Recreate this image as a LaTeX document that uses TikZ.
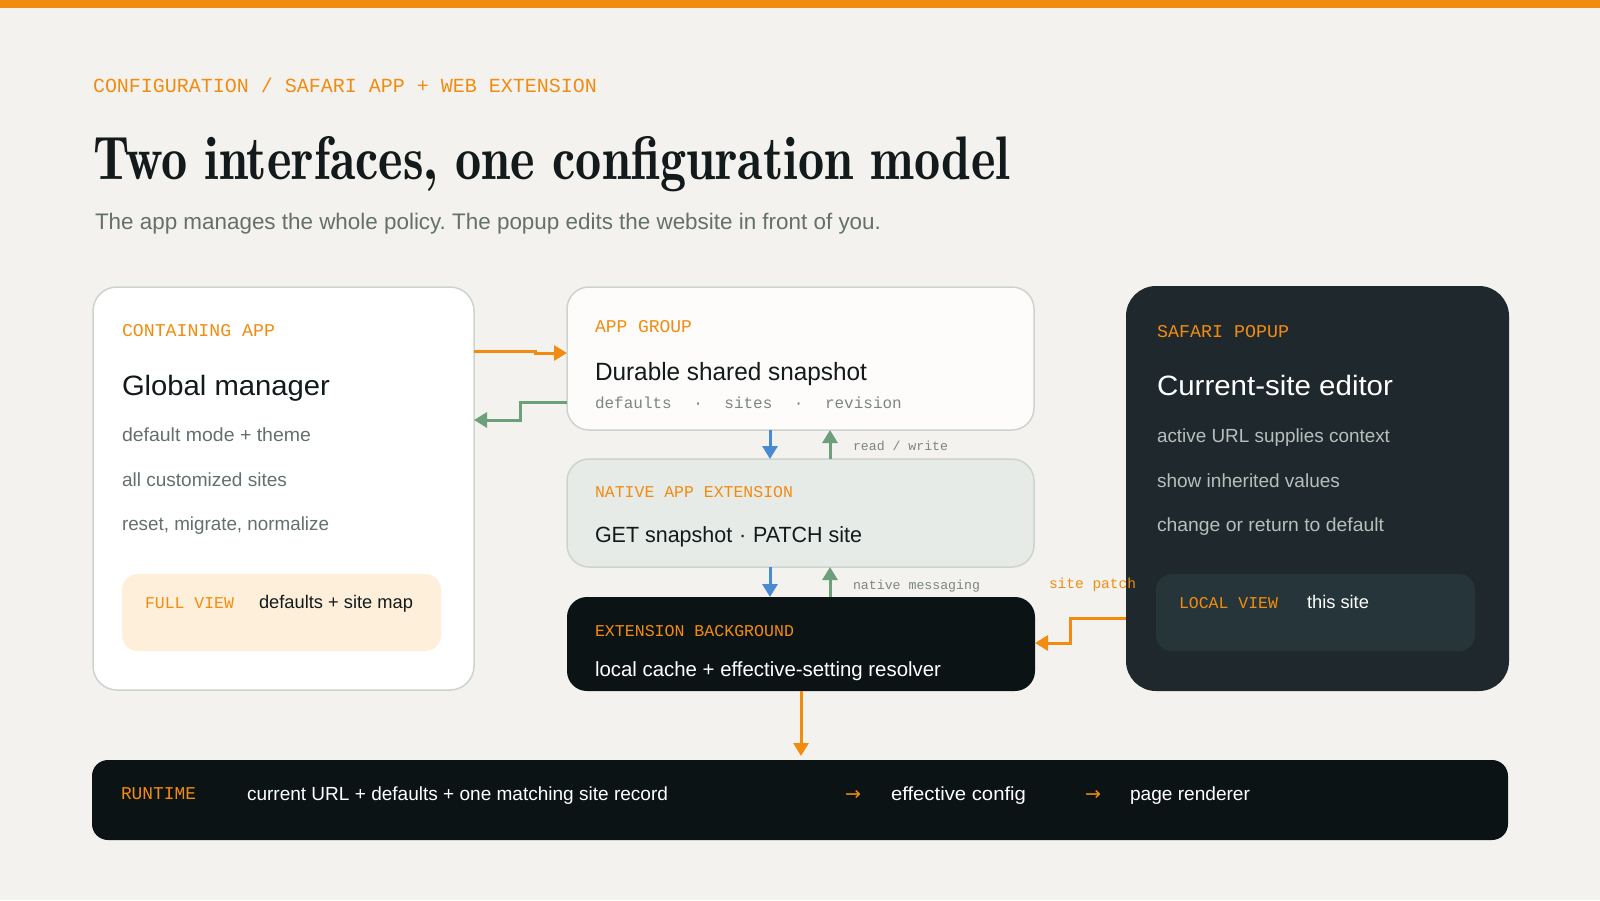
\documentclass[tikz,border=0pt]{standalone}
\usepackage{fontspec}
\usepackage{graphicx}
\usetikzlibrary{arrows.meta}
\newfontfamily\sansf{Liberation Sans}
\newfontfamily\monof{Liberation Mono}
\newfontfamily\symf{DejaVu Sans}
\newfontfamily\titlef{lmromandemi10-regular.otf}
\definecolor{bgc}{HTML}{F4F2EE}
\definecolor{acc}{HTML}{F28C10}
\definecolor{ink}{HTML}{121A1C}
\definecolor{sub}{HTML}{65706D}
\definecolor{linec}{HTML}{CDD3CF}
\definecolor{paper}{HTML}{FDFCFA}
\definecolor{mist}{HTML}{E6EBE8}
\definecolor{night}{HTML}{0C1315}
\definecolor{slate}{HTML}{1F292D}
\definecolor{slatetwo}{HTML}{26353A}
\definecolor{cream}{HTML}{FDEFD9}
\definecolor{pale}{HTML}{B7BFBC}
\definecolor{mgray}{HTML}{7D8582}
\definecolor{blu}{HTML}{4A8AD0}
\definecolor{grn}{HTML}{6BA07B}
\newcommand\fw[2]{\resizebox{#1pt}{\height}{#2}}
\frenchspacing
\begin{document}
\begin{tikzpicture}[x=1pt,y=-1pt,
  every node/.style={inner sep=0pt,outer sep=0pt},
  card/.style={anchor=north west,line width=1.5pt},
  tx/.style={anchor=base west},
  lbl/.style={tx,font=\monof\fontsize{18}{22}\selectfont,text=acc},
  head/.style={tx,font=\sansf\fontsize{28}{32}\selectfont},
  item/.style={tx,font=\sansf\fontsize{19}{23}\selectfont},
  note/.style={tx,font=\monof\fontsize{13}{16}\selectfont,text=mgray},
  arr/.style={line width=3pt,-{Triangle[length=13pt,width=15pt]}}]
\useasboundingbox (0,0) rectangle (1600,900);
\fill[bgc] (0,0) rectangle (1600,900);
\fill[acc] (0,0) rectangle (1600,8);

% cards
\node[card,fill=white,draw=linec,rounded corners=24pt,minimum width=381pt,minimum height=403pt] (app) at (93,287) {};
\node[card,fill=paper,draw=linec,rounded corners=22pt,minimum width=467pt,minimum height=143pt] (group) at (567,287) {};
\node[card,fill=mist,draw=linec,rounded corners=22pt,minimum width=467pt,minimum height=108pt] (native) at (567,459) {};
\node[card,fill=night,rounded corners=20pt,minimum width=468pt,minimum height=94pt] (bg) at (567,597) {};
\node[card,fill=slate,rounded corners=30pt,minimum width=383pt,minimum height=405pt] (popup) at (1126,286) {};
\node[card,fill=cream,rounded corners=16pt,minimum width=319pt,minimum height=77pt] (full) at (122,574) {};
\node[card,fill=slatetwo,rounded corners=16pt,minimum width=319pt,minimum height=77pt] (local) at (1156,574) {};
\node[card,fill=night,rounded corners=16pt,minimum width=1416pt,minimum height=80pt] (runtime) at (92,760) {};

% connectors
\draw[arr,acc] ([yshift=-64pt]app.north east) -- ++(61,0) |- ([yshift=-66pt]group.north west);
\draw[arr,grn] ([yshift=-115pt]group.north west) -- ++(-47,0) |- ([yshift=-133pt]app.north east);
\draw[arr,blu] ([xshift=203pt]group.south west) -- ([xshift=203pt]native.north west);
\draw[arr,grn] ([xshift=263pt]native.north west) -- ([xshift=263pt]group.south west);
\draw[arr,blu] ([xshift=203pt]native.south west) -- ([xshift=203pt]bg.north west);
\draw[arr,grn] ([xshift=263pt]bg.north west) -- ([xshift=263pt]native.south west);
\draw[arr,acc] ([yshift=-332pt]popup.north west) -- ++(-56,0) |- ([yshift=-46pt]bg.north east);
\draw[arr,acc,shorten >=4pt] (bg.south) -- (bg.south |- runtime.north);

% header
\node[tx,font=\monof\fontsize{20}{24}\selectfont,text=acc] (kick) at (93,92) {\fw{504}{CONFIGURATION / SAFARI APP + WEB EXTENSION}};
\node[tx,font=\titlef\fontsize{61.5}{70}\selectfont,text=ink] (title) at (93,179) {\fw{917}{Two interfaces, one configuration model}};
\node[tx,font=\sansf\fontsize{22.5}{26}\selectfont,text=sub] (subt) at (95,229) {\fw{786}{The app manages the whole policy. The popup edits the website in front of you.}};

% containing app
\node[lbl] (appk) at (122,336) {\fw{153}{CONTAINING APP}};
\node[head,text=ink] (apph) at (122,395) {\fw{208}{Global manager}};
\node[item,text=sub] (appa) at (122,441) {\fw{189}{default mode + theme}};
\node[item,text=sub] (appb) at (122,486) {\fw{165}{all customized sites}};
\node[item,text=sub] (appc) at (122,530) {\fw{207}{reset, migrate, normalize}};
\node[tx,font=\monof\fontsize{16.5}{20}\selectfont,text=acc] (fullk) at (145,608) {\fw{89}{FULL VIEW}};
\node[tx,font=\sansf\fontsize{18.3}{22}\selectfont,text=ink] (fullt) at (259,608) {\fw{154}{defaults + site map}};

% app group
\node[lbl] (grpk) at (595,332) {\fw{97}{APP GROUP}};
\node[tx,font=\sansf\fontsize{25}{29}\selectfont,text=ink] (grph) at (595,380) {\fw{272}{Durable shared snapshot}};
\node[tx,font=\monof\fontsize{16}{20}\selectfont,text=mgray] (grpf) at (595,408) {defaults\hspace{21.5pt}·\hspace{21.5pt}sites\hspace{21.5pt}·\hspace{21.5pt}revision};
\node[note] (rw) at (853,450) {\fw{95}{read / write}};

% native app extension
\node[tx,font=\monof\fontsize{16.5}{20}\selectfont,text=acc] (natk) at (595,497) {\fw{198}{NATIVE APP EXTENSION}};
\node[tx,font=\sansf\fontsize{22}{26}\selectfont,text=ink] (nath) at (595,542) {\fw{267}{GET snapshot\hspace{7pt}·\hspace{7pt}PATCH site}};
\node[note] (nm) at (853,589) {\fw{127}{native messaging}};

% extension background
\node[tx,font=\monof\fontsize{16.5}{20}\selectfont,text=acc] (bgk) at (595,636) {\fw{199}{EXTENSION BACKGROUND}};
\node[tx,font=\sansf\fontsize{20.5}{24}\selectfont,text=white] (bgh) at (595,676) {\fw{346}{local cache + effective-setting resolver}};

% safari popup
\node[lbl] (popk) at (1157,337) {\fw{132}{SAFARI POPUP}};
\node[head,text=white] (poph) at (1157,395) {\fw{236}{Current-site editor}};
\node[item,text=pale] (popa) at (1157,442) {\fw{233}{active URL supplies context}};
\node[item,text=pale] (popb) at (1157,487) {\fw{183}{show inherited values}};
\node[item,text=pale] (popc) at (1157,531) {\fw{227}{change or return to default}};
\node[tx,font=\monof\fontsize{16.5}{20}\selectfont,text=acc] (lock) at (1179,608) {\fw{99}{LOCAL VIEW}};
\node[tx,font=\sansf\fontsize{18.3}{22}\selectfont,text=white] (loct) at (1307,608) {\fw{62}{this site}};
\node[tx,font=\monof\fontsize{14.5}{18}\selectfont,text=acc] (sp) at (1049,588) {\fw{87}{site patch}};

% runtime
\node[lbl] (rtk) at (121,799) {\fw{75}{RUNTIME}};
\node[tx,font=\sansf\fontsize{19}{23}\selectfont,text=white] (rta) at (247,800) {\fw{421}{current URL + defaults + one matching site record}};
\node[tx,font=\symf\fontsize{19}{23}\selectfont,text=acc] (rtar) at (845,800) {→};
\node[tx,font=\sansf\fontsize{19}{23}\selectfont,text=white] (rtb) at (891,800) {\fw{135}{effective config}};
\node[tx,font=\symf\fontsize{19}{23}\selectfont,text=acc] (rtbr) at (1085,800) {→};
\node[tx,font=\sansf\fontsize{19}{23}\selectfont,text=white] (rtc) at (1130,800) {\fw{120}{page renderer}};
\end{tikzpicture}
\end{document}
